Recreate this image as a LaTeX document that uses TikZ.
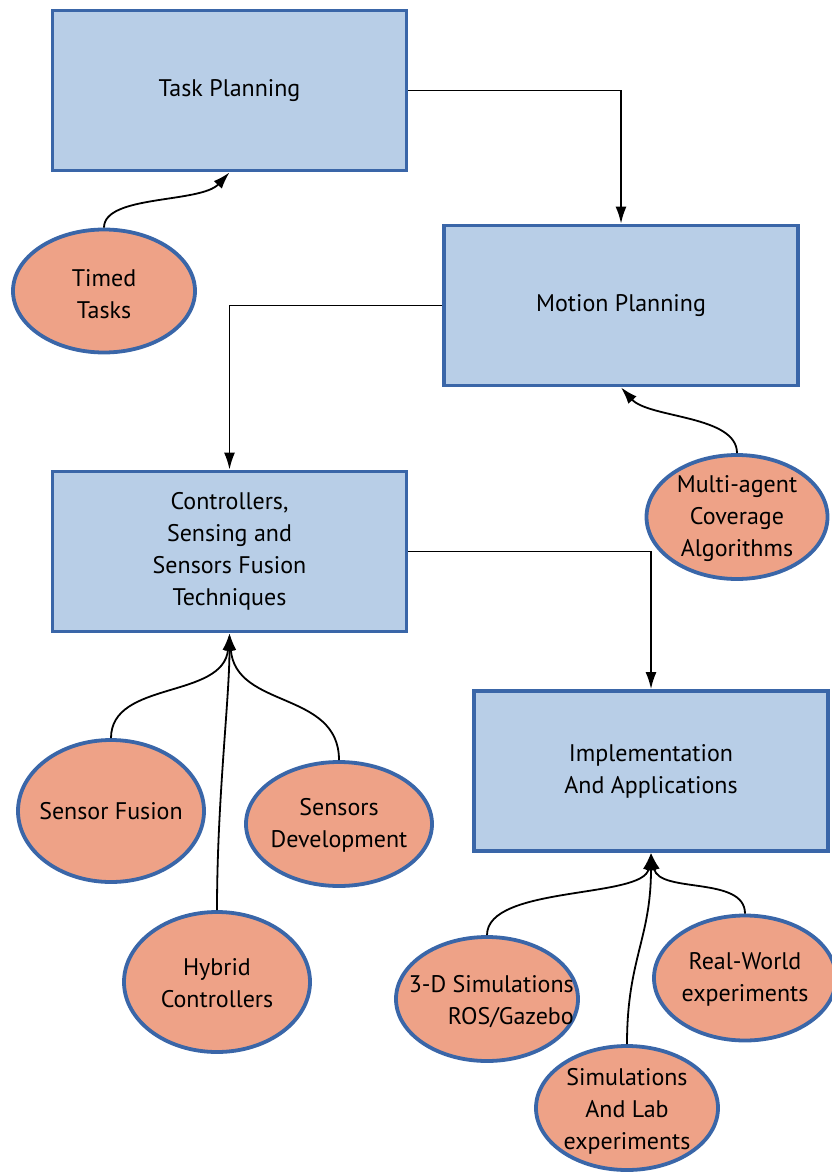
\documentclass[tikz,border=0pt]{standalone}
\usepackage{fontspec}
\setmainfont{PT Sans}
\usetikzlibrary{shapes.geometric,arrows.meta}
\definecolor{boxfill}{HTML}{B8CEE7}
\definecolor{edgeblue}{HTML}{3A66A8}
\definecolor{ovalfill}{HTML}{EEA287}
\begin{document}
\begin{tikzpicture}[x=1pt,y=-1pt,
  box/.style={draw=edgeblue,fill=boxfill,line width=3.8pt,rectangle,minimum width=354pt,minimum height=160pt,inner sep=0pt,align=center,font=\fontsize{24}{32}\selectfont},
  oval/.style={draw=edgeblue,fill=ovalfill,line width=3.8pt,ellipse,inner sep=0pt},
  lbl/.style={align=center,inner sep=0pt,font=\fontsize{24}{32}\selectfont},
  conn/.style={draw=black,line width=1.8pt,-{Latex[length=17pt,width=11pt]}}]
\useasboundingbox (0,0) rectangle (831,1174);
\fill[white] (0,0) rectangle (831,1174);
% boxes
\node[box] (task) at (229.5,90.5) {Task Planning};
\node[box] (motion) at (621,305.5) {Motion Planning};
\node[box] (ctrl) at (229.5,551.5) {Controllers,\\Sensing and\\Sensors Fusion\\Techniques};
\node[box] (impl) at (651,771) {Implementation\\And Applications};
% ovals
\node[oval,minimum width=182pt,minimum height=123pt] (tt) at (104,291) {};
\node[lbl] (ttl) at (104,294) {Timed\\Tasks};
\node[oval,minimum width=181pt,minimum height=124pt] (ma) at (737,517) {};
\node[lbl] (mal) at (737,519) {Multi-agent\\Coverage\\Algorithms};
\node[oval,minimum width=186pt,minimum height=142pt] (sf) at (111,811) {};
\node[lbl] (sfl) at (111,811) {Sensor Fusion};
\node[oval,minimum width=186pt,minimum height=124pt] (sd) at (339,824) {};
\node[lbl] (sdl) at (339,825) {Sensors\\Development};
\node[oval,minimum width=186pt,minimum height=140pt] (hc) at (217,982) {};
\node[lbl] (hcl) at (217,983) {Hybrid\\Controllers};
\node[oval,minimum width=182pt,minimum height=124pt] (sim3d) at (487,999) {};
\node[lbl,align=right,anchor=east] (sim3dl) at (574,1002) {3-D Simulations\\ROS/Gazebo};
\node[oval,minimum width=182pt,minimum height=125pt] (rw) at (745,978) {};
\node[lbl] (rwl) at (745,979) {Real-World\\experiments};
\node[oval,minimum width=182pt,minimum height=124pt] (sl) at (627,1108) {};
\node[lbl] (sll) at (627,1111) {Simulations\\And Lab\\experiments};
% main flow
\draw[conn] (task.east) -| (motion.north);
\draw[conn] (motion.west) -| (ctrl.north);
\draw[conn] (ctrl.east) -| (impl.north);
% feeders
\draw[conn] (tt.north) .. controls +(0,-33) and +(-29,31) .. (task.south);
\draw[conn] (ma.north) .. controls +(0,-38) and +(28,31) .. (motion.south);
\draw[conn] (sf.north) .. controls +(0,-58) and +(-6,66) .. (ctrl.south);
\draw[conn] (sd.north) .. controls +(0,-70) and +(6,76) .. (ctrl.south);
\draw[conn] (hc.north) .. controls +(0,-110) and +(0,66) .. (ctrl.south);
\draw[conn] (sim3d.north) .. controls +(0,-50) and +(-7,46) .. (impl.south);
\draw[conn] (rw.north) .. controls +(0,-38) and +(8,41) .. (impl.south);
\draw[conn] (sl.north) .. controls +(0,-85) and +(0,86) .. (impl.south);
\end{tikzpicture}
\end{document}
